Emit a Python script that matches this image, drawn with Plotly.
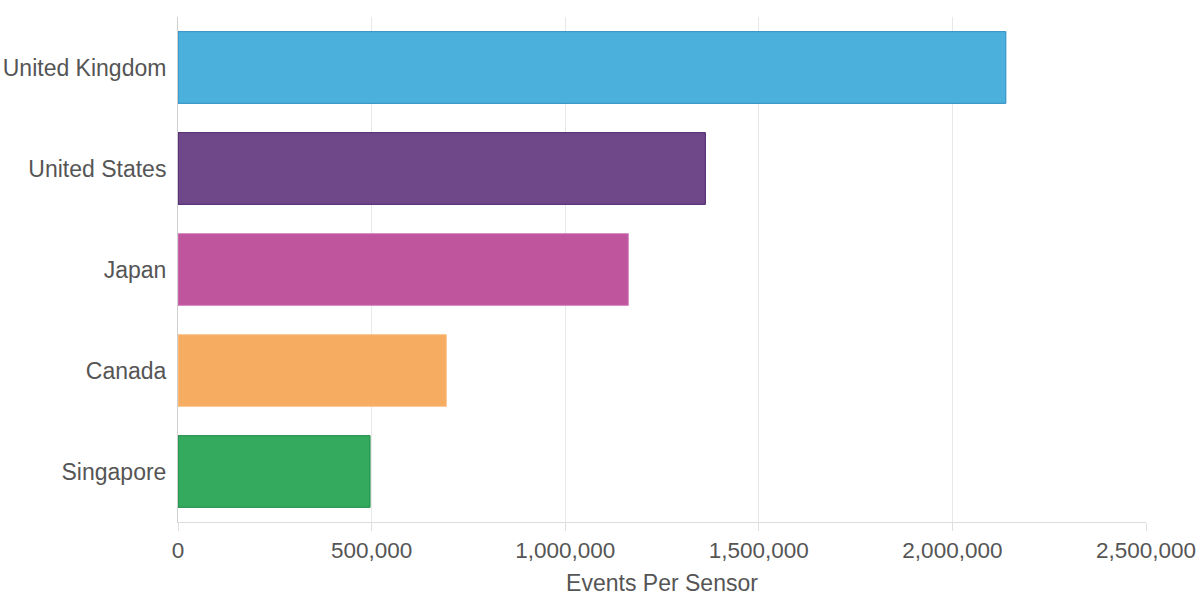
import plotly.graph_objects as go

countries = ["Singapore", "Canada", "Japan", "United States", "United Kingdom"]
events = [496000, 693000, 1163000, 1362000, 2138000]
fill_colors = ["rgba(40,165,85,0.95)", "rgba(245,168,88,0.95)", "rgba(185,72,150,0.93)",
               "rgba(100,58,128,0.93)", "rgba(62,170,218,0.93)"]
line_colors = ["#1e8a45", "#f8c48c", "#d47fbd", "#4a1f6e", "#2a8cc0"]
x_ticks = [0, 500000, 1000000, 1500000, 2000000, 2500000]
x_tick_labels = ["0", "500,000", "1,000,000", "1,500,000", "2,000,000", "2,500,000"]

fig = go.Figure(go.Bar(
    y=countries, x=events, orientation="h",
    marker=dict(color=fill_colors, line=dict(color=line_colors, width=1)),
    width=0.71,
))

fig.update_layout(
    width=1200, height=600,
    margin=dict(l=178, r=54, t=17, b=78),
    plot_bgcolor="white", paper_bgcolor="white",
    font=dict(family="Arial, Liberation Sans, sans-serif", size=22, color="#555"),
    showlegend=False,
    xaxis=dict(
        range=[0, 2500000], tickvals=x_ticks, ticktext=x_tick_labels,
        automargin=False,
        showgrid=True, gridcolor="#e8e8e8", gridwidth=1,
        showline=True, linecolor="#dcdcdc", linewidth=1,
        ticks="outside", ticklen=8, tickcolor="#e0e0e0",
        zeroline=False,
        title=dict(text="Events Per Sensor", font=dict(size=23, color="#555"), standoff=12),
        tickfont=dict(size=22.5, color="#555"),
    ),
    yaxis=dict(
        automargin=False,
        showgrid=False, showline=True, linecolor="#d0d0d0", linewidth=1,
        ticks="", ticklabelstandoff=6,
        tickfont=dict(size=23, color="#555"),
    ),
)

fig.write_html("out.html")
